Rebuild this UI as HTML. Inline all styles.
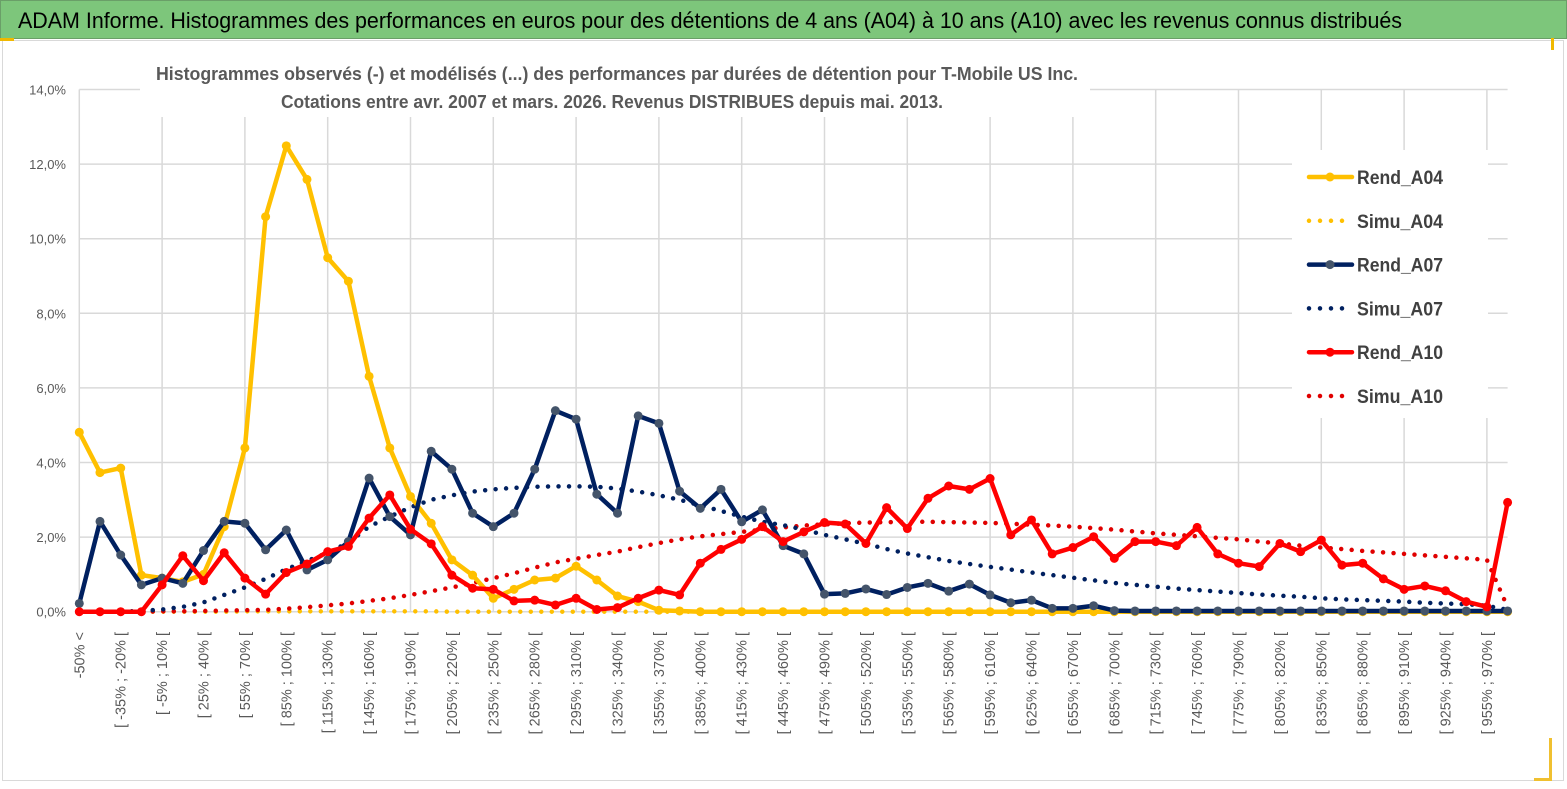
<!DOCTYPE html>
<html><head><meta charset="utf-8"><style>
body{margin:0;background:#fff;}
svg{display:block;font-family:"Liberation Sans",sans-serif;}
</style></head><body>
<svg id="chart" width="1567" height="789" viewBox="0 0 1567 789">
<rect x="0" y="0" width="1567" height="789" fill="#fff"/>
<rect x="0.5" y="0.5" width="1566" height="38" fill="#7dc67b" stroke="#6a9f68"/>
<text x="18" y="28" font-size="22" fill="#000" textLength="1384" lengthAdjust="spacingAndGlyphs">ADAM Informe. Histogrammes des performances en euros pour des détentions de 4 ans (A04) à 10 ans (A10) avec les revenus connus distribués</text>
<rect x="2.5" y="40.5" width="1561" height="740" fill="none" stroke="#d9d9d9"/>
<rect x="0" y="38" width="14" height="3" fill="#f0b800"/>
<rect x="1551" y="38" width="3" height="12" fill="#f0b800"/>
<rect x="1549" y="738" width="3" height="42" fill="#f0c030"/>
<rect x="1534" y="778" width="18" height="3" fill="#f0c030"/>
<g id="grid"></g>
<rect x="140" y="55" width="950" height="62" fill="#fff"/>
<text x="617" y="80" font-size="18" font-weight="bold" fill="#595959" text-anchor="middle" textLength="922" lengthAdjust="spacingAndGlyphs">Histogrammes observés (-) et modélisés (...) des performances par durées de détention pour T-Mobile US Inc.</text>
<text x="612" y="108" font-size="18" font-weight="bold" fill="#595959" text-anchor="middle" textLength="662" lengthAdjust="spacingAndGlyphs">Cotations entre avr. 2007 et mars. 2026. Revenus DISTRIBUES depuis mai. 2013.</text>
<g id="yaxis"></g>
<g id="xaxis"></g>
<g id="series"></g>
<g id="legend"></g>
</svg>
<script>
const yTicks = [0,2,4,6,8,10,12,14];
const rendA04 = [4.81,3.73,3.85,0.98,0.9,0.8,1.0,2.28,4.39,10.59,12.49,11.59,9.49,8.86,6.31,4.39,3.09,2.37,1.39,0.98,0.36,0.6,0.85,0.9,1.22,0.85,0.42,0.27,0.04,0.02,0,0,0,0,0,0,0,0,0,0,0,0,0,0,0,0,0,0,0,0,0,0,0,0,0,0,0,0,0,0,0,0,0,0,0,0,0,0,0,0];
const simuA04 = [0,0,0,0,0,0,0,0,0.01,0.01,0.01,0.01,0.01,0.01,0.01,0.01,0.01,0.01,0,0,0,0,0,0,0,0,0,0,0,0,0,0,0,0,0,0,0,0,0,0,0,0,0,0,0,0,0,0,0,0,0,0,0,0,0,0,0,0,0,0,0,0,0,0,0,0,0,0,0,0];
const rendA07 = [0.22,2.42,1.52,0.72,0.9,0.76,1.64,2.42,2.37,1.66,2.19,1.12,1.39,1.88,3.58,2.55,2.06,4.3,3.82,2.64,2.28,2.64,3.82,5.39,5.16,3.15,2.64,5.25,5.05,3.23,2.77,3.28,2.41,2.73,1.77,1.55,0.47,0.49,0.61,0.46,0.65,0.76,0.55,0.74,0.45,0.24,0.31,0.09,0.09,0.16,0.03,0.02,0.02,0.02,0.02,0.02,0.02,0.02,0.02,0.02,0.02,0.02,0.02,0.02,0.02,0.02,0.02,0.02,0.02,0.02];
const simuA07 = [0,0,0,0.02,0.06,0.13,0.25,0.45,0.65,0.88,1.14,1.36,1.58,1.85,2.28,2.55,2.8,3.0,3.12,3.22,3.28,3.32,3.35,3.36,3.36,3.35,3.3,3.22,3.12,3.0,2.85,2.7,2.55,2.41,2.32,2.2,2.06,1.94,1.82,1.68,1.56,1.46,1.36,1.28,1.2,1.13,1.05,0.98,0.91,0.84,0.77,0.72,0.67,0.62,0.58,0.54,0.5,0.46,0.43,0.4,0.36,0.33,0.31,0.29,0.27,0.24,0.22,0.2,0.16,0.05];
const rendA10 = [0,0,0,0,0.72,1.5,0.83,1.58,0.9,0.47,1.05,1.28,1.61,1.75,2.51,3.13,2.21,1.82,0.98,0.63,0.6,0.29,0.31,0.18,0.36,0.06,0.11,0.36,0.58,0.45,1.3,1.67,1.94,2.28,1.88,2.14,2.39,2.35,1.83,2.79,2.23,3.04,3.37,3.28,3.57,2.06,2.46,1.55,1.72,2.01,1.43,1.88,1.88,1.77,2.26,1.55,1.3,1.21,1.83,1.61,1.92,1.25,1.3,0.88,0.6,0.69,0.56,0.27,0.13,2.93];
const simuA10 = [0,0,0,0,0.01,0.01,0.02,0.03,0.04,0.05,0.08,0.12,0.17,0.22,0.29,0.36,0.45,0.55,0.65,0.77,0.9,1.03,1.18,1.32,1.42,1.52,1.61,1.73,1.84,1.94,2.02,2.08,2.14,2.2,2.26,2.31,2.34,2.37,2.39,2.4,2.41,2.41,2.4,2.39,2.38,2.36,2.33,2.31,2.28,2.24,2.2,2.15,2.1,2.06,2.02,1.98,1.94,1.88,1.83,1.77,1.72,1.68,1.63,1.59,1.55,1.51,1.47,1.43,1.39,0.12];
const categories = ["-50% <"];
for (let k = 1; k < 70; k++) { const a = -50 + 15*(k-1); categories.push("[ " + a + "% ; " + (a+15) + "% ["); }

const NS = "http://www.w3.org/2000/svg";
const X0 = 79.3, DX = 20.7, Y0 = 611.7, PY = 37.3;
const xs = i => X0 + DX*i;
const ys = v => Y0 - v*PY;
function mk(tag, attrs, parent){ const e=document.createElementNS(NS,tag); for(const k in attrs) e.setAttribute(k,attrs[k]); parent.appendChild(e); return e; }
const grid=document.getElementById('grid'), yax=document.getElementById('yaxis'), xax=document.getElementById('xaxis'), ser=document.getElementById('series'), leg=document.getElementById('legend');
const xRight = xs(categories.length-1);
yTicks.forEach(t=>{
  const l=mk('line',{x1:X0,x2:xRight,y1:ys(t),y2:ys(t),stroke:'#d9d9d9','stroke-width':1.5},grid);
  
  
  const tx=mk('text',{x:66,y:ys(t)+5,'font-size':13,fill:'#595959','text-anchor':'end'},yax);
  tx.textContent=t.toFixed(1).replace('.',',')+'%';
  
  
});
categories.forEach((c,i)=>{
  if(i%4===0){
    const l=mk('line',{x1:xs(i),x2:xs(i),y1:ys(14),y2:Y0,stroke:'#d9d9d9','stroke-width':1.5},grid);
    
    
  }
  if(i%2===0){
    const tx=mk('text',{x:0,y:0,'font-size':14.5,fill:'#595959','text-anchor':'end',transform:`translate(${xs(i)+5},${632}) rotate(-90)`},xax);
    tx.textContent=c;
    
    
  }
});
function drawLine(vals,color,markerFill,name){
  const p=mk('polyline',{points:vals.map((v,i)=>xs(i)+','+ys(v)).join(' '),fill:'none',stroke:color,'stroke-width':4.5,'stroke-linejoin':'round'},ser);
  
  
  vals.forEach((v,i)=>{
    const c=mk('circle',{cx:xs(i),cy:ys(v),r:4.5,fill:markerFill},ser);
    
    
  });
}
function drawDots(vals,color,name){
  const p=mk('polyline',{points:vals.map((v,i)=>xs(i)+','+ys(v)).join(' '),fill:'none',stroke:color,'stroke-width':4.5,'stroke-linecap':'round','stroke-dasharray':'0 10.5'},ser);
  
  
}
drawDots(simuA04,'#ffc000','simu-a04');
drawDots(simuA10,'#e00000','simu-a10');
drawDots(simuA07,'#002060','simu-a07');
drawLine(rendA04,'#ffc000','#ffc000','rend-a04');
drawLine(rendA07,'#002060','#44546a','rend-a07');
drawLine(rendA10,'#ff0000','#ff0000','rend-a10');
const lb=mk('rect',{x:1292,y:150,width:196,height:268,fill:'#fff'},leg);


const items=[['Rend_A04','#ffc000','#ffc000',false],['Simu_A04','#ffc000',null,true],['Rend_A07','#002060','#44546a',false],['Simu_A07','#002060',null,true],['Rend_A10','#ff0000','#ff0000',false],['Simu_A10','#e00000',null,true]];
items.forEach((it,k)=>{
  const y=177+k*43.8;
  const g=mk('g',{},leg);
  
  
  if(it[3]){
    mk('line',{x1:1309,x2:1352,y1:y,y2:y,stroke:it[1],'stroke-width':4.5,'stroke-linecap':'round','stroke-dasharray':'0 11'},g);
  } else {
    mk('line',{x1:1309,x2:1352,y1:y,y2:y,stroke:it[1],'stroke-width':4.5,'stroke-linecap':'round'},g);
    mk('circle',{cx:1330,cy:y,r:4.5,fill:it[2]},g);
  }
  const t=mk('text',{x:1357,y:y+7,'font-size':19,'font-weight':'bold',fill:'#404040',textLength:86,lengthAdjust:'spacingAndGlyphs'},g);
  t.textContent=it[0];
});
</script>
</body></html>
